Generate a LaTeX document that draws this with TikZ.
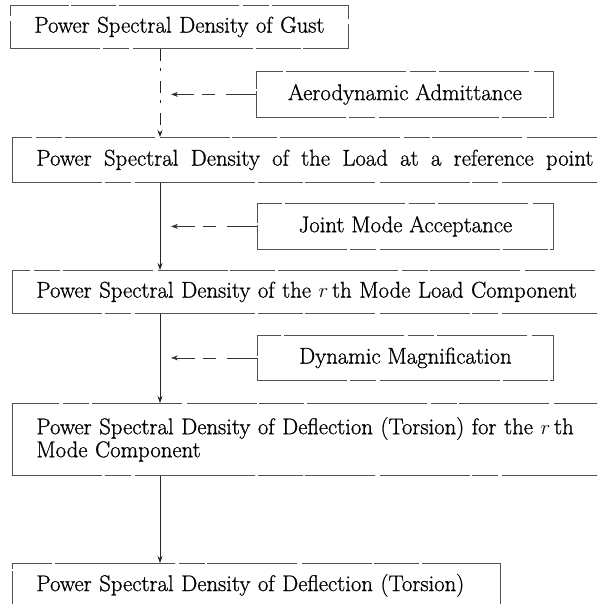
\documentclass[tikz,border=0pt]{standalone}
\usepackage{fontspec}
\setmainfont{Latin Modern Roman}[FakeBold=0.9]
\usetikzlibrary{arrows.meta}
\begin{document}
\begin{tikzpicture}[x=1pt,y=-1pt,
  txt/.style={font=\fontsize{22.7}{23}\selectfont, text=black},
  boxline/.style={draw=black!68, line width=0.8pt,
    dash pattern=on 90pt off 2.5pt on 26pt off 4pt on 120pt off 3pt on 45pt off 2pt on 70pt off 5pt},
  mainbox/.style={boxline, txt, rectangle, anchor=north west, inner xsep=24pt, inner ysep=0pt, align=left},
  sidebox/.style={boxline, txt, rectangle, anchor=north west, inner sep=0pt, align=center},
  flow/.style={draw=black!85, line width=0.7pt, -{Stealth[length=7pt,width=5pt]}},
  side/.style={draw=black!80, line width=0.7pt, -{Stealth[length=7pt,width=5pt]},
    dash pattern=on 30pt off 11pt on 13pt off 8pt on 40pt}
]
\clip (0,0) rectangle (597,604);
\coordinate (col) at (160,0);
\coordinate (tip) at (171,0);

\node[mainbox, minimum width=338pt, minimum height=43pt, text width=290pt] (gust) at (10,5)
  {\mbox{Power Spectral Density of Gust}};
\node[sidebox, minimum width=297pt, minimum height=46pt] (aa) at (256,71)
  {Aerodynamic Admittance};
\node[mainbox, minimum width=600pt, minimum height=45pt, text width=552pt] (load) at (12,137)
  {\hbox to 557pt{Power\hfil Spectral\hfil Density\hfil of\hfil the\hfil Load\hfil at\hfil a\hfil reference\hfil point}};
\node[sidebox, minimum width=296pt, minimum height=46pt] (jma) at (257,203)
  {Joint Mode Acceptance};
\node[mainbox, minimum width=600pt, minimum height=43pt, text width=552pt] (rload) at (12,270)
  {\mbox{Power Spectral Density of the $r$\,th Mode Load Component}};
\node[sidebox, minimum width=296pt, minimum height=45pt] (dm) at (257,335)
  {Dynamic Magnification};
\node[mainbox, minimum width=600pt, minimum height=72pt, text width=552pt] (rdefl) at (12,403)
  {\mbox{Power Spectral Density of Deflection (Torsion) for the $r$\,th}\\Mode Component};
\node[mainbox, minimum width=488pt, minimum height=44pt, text width=440pt] (defl) at (12,563)
  {\mbox{Power Spectral Density of Deflection (Torsion)}};

\draw[flow, dash pattern=on 12pt off 7pt on 3pt off 10pt] (gust.south -| col) -- (load.north -| col);
\draw[flow] (load.south -| col) -- (rload.north -| col);
\draw[flow] (rload.south -| col) -- (rdefl.north -| col);
\draw[flow] (rdefl.south -| col) -- (defl.north -| col);

\draw[side] (aa.west) -- (aa.west -| tip);
\draw[side] (jma.west) -- (jma.west -| tip);
\draw[side] (dm.west) -- (dm.west -| tip);
\end{tikzpicture}
\end{document}
